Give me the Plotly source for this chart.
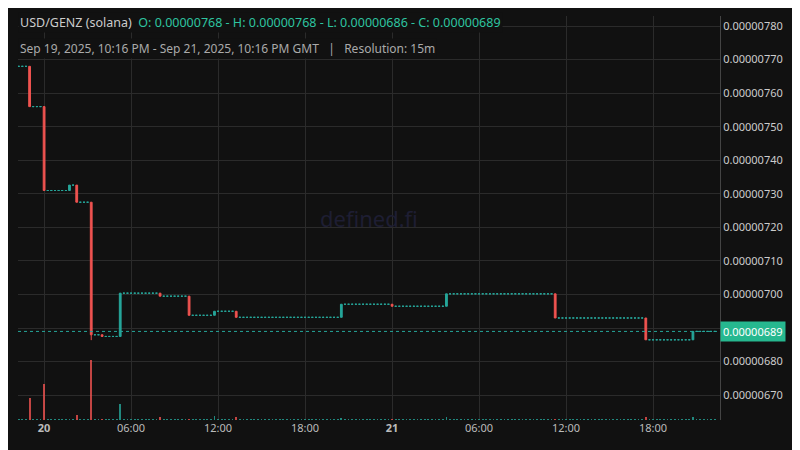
import pandas as pd
import plotly.graph_objects as go

# Non-flat candles (time, O, H, L, C, volume); prices in units of 1e-8
ev_time = ["2025-09-19 23:00", "2025-09-20 00:00", "2025-09-20 00:30", "2025-09-20 01:45", "2025-09-20 02:15",
           "2025-09-20 03:15", "2025-09-20 04:00", "2025-09-20 05:15", "2025-09-20 08:00", "2025-09-20 10:00",
           "2025-09-20 11:45", "2025-09-20 13:15", "2025-09-20 20:30", "2025-09-21 00:00", "2025-09-21 03:45",
           "2025-09-21 11:15", "2025-09-21 17:30", "2025-09-21 20:45"]
ev_open = [768, 756, 731, 731, 732.6, 727.5, 688, 687.5, 700.4, 699.5, 693.8, 695, 693.2, 697.1, 696.5, 700.2, 693, 686.5]
ev_high = [768, 756, 731, 732.6, 732.6, 727.5, 688, 700.4, 700.4, 699.5, 695, 695, 697.1, 697.1, 700.2, 700.2, 693, 689]
ev_low = [756, 731, 731, 731, 727.5, 686.4, 687.5, 687.5, 699.5, 693.8, 693.8, 693.2, 693.2, 696.5, 696.5, 693, 686.5, 686.5]
ev_close = [756, 731, 731, 732.6, 727.5, 688, 687.5, 700.4, 699.5, 693.8, 695, 693.2, 697.1, 696.5, 700.2, 693, 686.5, 689]
ev_vol = [22, 36, 1.5, 1.5, 5, 60, 1.5, 16, 3, 1.5, 4, 3, 2, 1.5, 3, 1.5, 3, 3]
start_price = 768
flat_vol = 1
S = 1e-8

start = pd.Timestamp("2025-09-19 22:15")
end = pd.Timestamp("2025-09-21 22:15")
ev = {pd.Timestamp(t): i for i, t in enumerate(ev_time)}
times, O, H, L, C, V = [], [], [], [], [], []
last = start_price
t = start
while t <= end:
    if t in ev:
        i = ev[t]
        o, h, l, c, v = ev_open[i], ev_high[i], ev_low[i], ev_close[i], ev_vol[i]
    else:
        o = h = l = c = last
        v = flat_vol
    times.append(t); O.append(o*S); H.append(h*S); L.append(l*S); C.append(c*S); V.append(v)
    last = c
    t += pd.Timedelta(minutes=15)

GREEN = "#26a69a"
RED = "#ef5350"
down = [c < o for o, c in zip(O, C)]
vcol = ["rgba(239,83,80,0.8)" if d else "rgba(38,166,154,0.8)" for d in down]

def pick(arr, want):
    return [a if d == want else None for a, d in zip(arr, down)]

fig = go.Figure()
fig.add_trace(go.Bar(x=times, y=V, yaxis="y2", marker_color=vcol, marker_line_width=0, width=15*60*1000*0.5, hoverinfo="skip"))
for want, col in [(False, GREEN), (True, RED)]:
    fig.add_trace(go.Candlestick(x=times, open=pick(O, want), high=pick(H, want), low=pick(L, want), close=pick(C, want),
                                 increasing=dict(line=dict(color=col, width=1), fillcolor=col),
                                 decreasing=dict(line=dict(color=col, width=1), fillcolor=col),
                                 whiskerwidth=0))

tickvals = ["2025-09-20 00:00", "2025-09-20 06:00", "2025-09-20 12:00", "2025-09-20 18:00",
            "2025-09-21 00:00", "2025-09-21 06:00", "2025-09-21 12:00", "2025-09-21 18:00"]
ticktext = ["<b>20</b>", "06:00", "12:00", "18:00", "<b>21</b>", "06:00", "12:00", "18:00"]
last_close = C[-1]

fig.add_hline(y=last_close, line=dict(color=GREEN, width=1, dash="dot"))
fig.update_layout(
    width=800, height=450, showlegend=False,
    paper_bgcolor="#111111", plot_bgcolor="#111111",
    margin=dict(l=10, r=88, t=8, b=38),
    font=dict(family="Noto Sans", color="#bbbbbb", size=11),
    bargap=0,
    xaxis=dict(type="date", range=["2025-09-19 22:12", "2025-09-21 22:37"], tickvals=tickvals, ticktext=ticktext,
               showgrid=True, gridcolor="#2b2b2b", rangeslider=dict(visible=False), zeroline=False,
               showline=False, ticks="", tickfont=dict(color="#bbbbbb", size=11)),
    yaxis=dict(side="right", range=[662.6*S, 783*S], dtick=10*S, tick0=0, tickformat=".8f",
               showgrid=True, gridcolor="#2b2b2b", zeroline=False, showline=True, linecolor="#444444",
               ticks="", tickfont=dict(color="#cccccc", size=11)),
    yaxis2=dict(overlaying="y", range=[0, 404], visible=False),
    annotations=[
        dict(xref="paper", yref="paper", x=0.0, y=1.01, xanchor="left", yanchor="top", showarrow=False,
             text="<span style='color:#cccccc'>USD/GENZ (solana)</span>  <span style='color:#2ec4a0'>O: 0.00000768 - H: 0.00000768 - L: 0.00000686 - C: 0.00000689</span>",
             font=dict(size=12.5), bgcolor="#111111"),
        dict(xref="paper", yref="paper", x=0.0, y=0.945, xanchor="left", yanchor="top", showarrow=False,
             text="Sep 19, 2025, 10:16 PM - Sep 21, 2025, 10:16 PM GMT   |   Resolution: 15m",
             font=dict(size=12, color="#aaaaaa"), bgcolor="#111111"),
        dict(xref="paper", yref="paper", x=0.5, y=0.5, showarrow=False, text="defined.fi",
             font=dict(size=22, color="#1e1e33")),
        dict(xref="paper", yref="y", x=1.0, y=last_close, xanchor="left", yanchor="middle", showarrow=False,
             text="0.00000689", bgcolor="#26b88f", font=dict(size=11, color="#ffffff"), borderpad=2),
    ],
)
fig.write_html("out.html")
